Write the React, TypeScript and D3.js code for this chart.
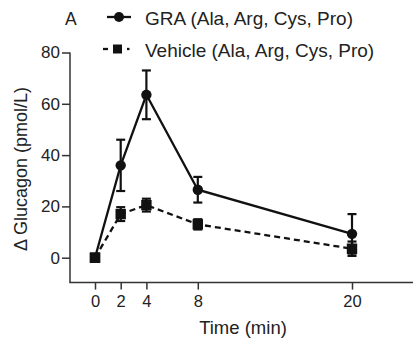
import React, { useRef, useEffect } from 'react';
import * as d3 from 'd3';

const times = [0, 2, 4, 8, 20];
const graMean = [0, 36, 63.5, 26.5, 9.3];
const graErr = [0, 10, 9.5, 5, 7.7];
const vehMean = [0, 17, 20.5, 13, 3.5];
const vehErr = [0, 2.7, 2.5, 2, 2.8];
const yTicks = [0, 20, 40, 60, 80];
const legendLabels = ['GRA (Ala, Arg, Cys, Pro)', 'Vehicle (Ala, Arg, Cys, Pro)'];

const FONT = 'Liberation Sans, Arial, sans-serif';

const drawChart = (svgEl: SVGSVGElement): void => {
    const svg = d3.select(svgEl);
    svg.selectAll('*').remove();

    const x = d3.scaleLinear().domain([0, 20]).range([95, 352]);
    const y = d3.scaleLinear().domain([0, 80]).range([257.7, 52.5]);
    const ink = '#111';

    // axes
    const yAxis = svg.append('g')
        .attr('transform', 'translate(70,0)')
        .call(d3.axisLeft(y).tickValues(yTicks).tickSize(8).tickPadding(2));
    yAxis.select('.domain').remove();
    yAxis.append('line')
        .attr('x1', 0).attr('x2', 0)
        .attr('y1', y(80)).attr('y2', y(-9.7))
        .attr('stroke', '#333').attr('stroke-width', 1.5);

    const xAxis = svg.append('g')
        .attr('transform', `translate(0,${y(-9.7)})`)
        .call(d3.axisBottom(x).tickValues(times).tickSize(7).tickPadding(6));
    xAxis.select('.domain').remove();
    xAxis.append('line')
        .attr('x1', 69.3).attr('x2', 413)
        .attr('stroke', '#333').attr('stroke-width', 1.5);

    [yAxis, xAxis].forEach((ax, k) => {
        ax.selectAll('.tick line').attr('stroke', '#333').attr('stroke-width', 1.5);
        ax.selectAll('.tick text')
            .attr('fill', '#222')
            .style('font-family', FONT)
            .style('font-size', k === 0 ? '17px' : '16.5px');
    });

    svg.append('text')
        .attr('x', 243).attr('y', 334)
        .attr('text-anchor', 'middle')
        .attr('fill', '#222')
        .style('font-family', FONT).style('font-size', '18.5px')
        .text('Time (min)');

    svg.append('text')
        .attr('transform', 'translate(27,169) rotate(-90)')
        .attr('text-anchor', 'middle')
        .attr('fill', '#222')
        .style('font-family', FONT).style('font-size', '18px')
        .text('Δ Glucagon (pmol/L)');

    const line = d3.line<number>()
        .x((_, i) => x(times[i]))
        .y(d => y(d));

    const drawSeries = (means: number[], errs: number[], dashed: boolean, square: boolean) => {
        const g = svg.append('g');
        g.append('path')
            .datum(means)
            .attr('d', line)
            .attr('fill', 'none')
            .attr('stroke', ink)
            .attr('stroke-width', 2.3)
            .attr('stroke-dasharray', dashed ? '6,4' : null);
        means.forEach((m, i) => {
            if (errs[i] <= 0) return;
            const cx = x(times[i]);
            const y1 = y(m + errs[i]);
            const y2 = y(m - errs[i]);
            g.append('line').attr('x1', cx).attr('x2', cx).attr('y1', y1).attr('y2', y2)
                .attr('stroke', ink).attr('stroke-width', 2.2);
            [y1, y2].forEach(yy => g.append('line')
                .attr('x1', cx - 4.5).attr('x2', cx + 4.5).attr('y1', yy).attr('y2', yy)
                .attr('stroke', ink).attr('stroke-width', 2.2));
        });
        means.forEach((m, i) => {
            const cx = x(times[i]);
            const cy = y(m);
            if (square || i === 0) {
                g.append('rect').attr('x', cx - 5.2).attr('y', cy - 5.2)
                    .attr('width', 10.4).attr('height', 10.4).attr('fill', ink);
            } else {
                g.append('circle').attr('cx', cx).attr('cy', cy).attr('r', 5.2).attr('fill', ink);
            }
        });
    };

    drawSeries(graMean, graErr, false, false);
    drawSeries(vehMean, vehErr, true, true);

    // panel letter and legend
    svg.append('text')
        .attr('x', 65).attr('y', 25)
        .attr('fill', '#222')
        .style('font-family', FONT).style('font-size', '17.5px')
        .text('A');

    const leg = svg.append('g');
    leg.append('line').attr('x1', 107).attr('x2', 131).attr('y1', 17).attr('y2', 17)
        .attr('stroke', ink).attr('stroke-width', 2.3);
    leg.append('circle').attr('cx', 119).attr('cy', 17).attr('r', 5).attr('fill', ink);
    leg.append('line').attr('x1', 103).attr('x2', 108).attr('y1', 49).attr('y2', 49)
        .attr('stroke', ink).attr('stroke-width', 2.3);
    leg.append('rect').attr('x', 113).attr('y', 44.5).attr('width', 9).attr('height', 9).attr('fill', ink);
    leg.append('line').attr('x1', 127).attr('x2', 129.5).attr('y1', 49).attr('y2', 49)
        .attr('stroke', ink).attr('stroke-width', 2.3);

    legendLabels.forEach((label, i) => {
        leg.append('text')
            .attr('x', 145).attr('y', 24.5 + i * 32)
            .attr('fill', '#222')
            .style('font-family', FONT).style('font-size', '19px')
            .text(label);
    });
};

const App: React.FC = () => {
    const ref = useRef<SVGSVGElement>(null);

    useEffect(() => {
        if (ref.current) drawChart(ref.current);
    }, []);

    return (
        <svg ref={ref} width={413} height={347}
            style={{ position: 'absolute', left: 0, top: 0, background: '#fff' }} />
    );
};

export default App;
